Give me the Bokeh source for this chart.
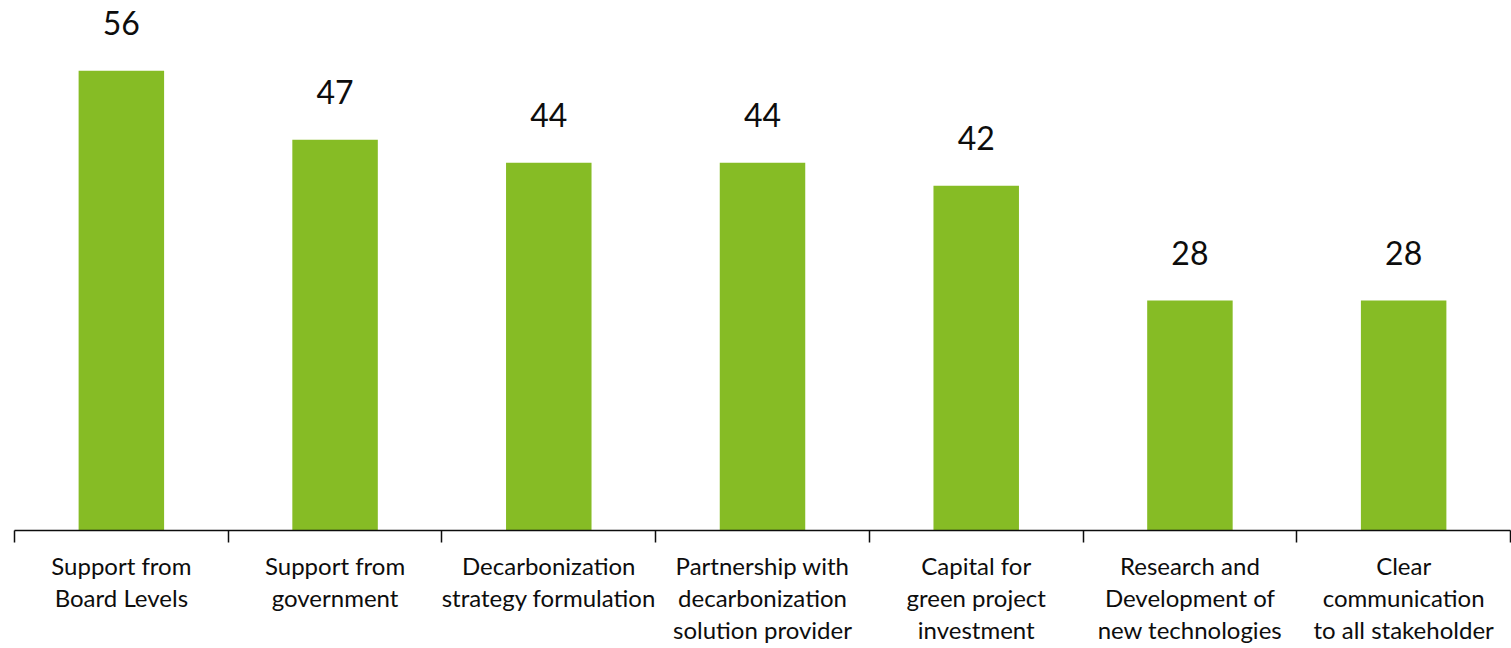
from bokeh.plotting import figure
from bokeh.models import Range1d, FixedTicker, ColumnDataSource
from bokeh.core.properties import value
from bokeh.embed import file_html
from bokeh.resources import INLINE

categories = [
    "Support from\nBoard Levels",
    "Support from\ngovernment",
    "Decarbonization\nstrategy formulation",
    "Partnership with\ndecarbonization\nsolution provider",
    "Capital for\ngreen project\ninvestment",
    "Research and\nDevelopment of\nnew technologies",
    "Clear\ncommunication\nto all stakeholder",
]
values = [56, 47.6, 44.8, 44.8, 42, 28, 28]
value_labels = [str(int(v)) for v in values]

n = len(categories)
centers = [i + 0.5 for i in range(n)]
boundaries = list(range(n + 1))

src = ColumnDataSource(dict(x=centers, top=values, label=value_labels))

p = figure(width=1511, height=648, output_backend="svg", toolbar_location=None,
           x_range=Range1d(0, n), y_range=Range1d(0, 64.55),
           min_border_left=14, min_border_right=1, min_border_top=0,
           min_border_bottom=118)
p.outline_line_color = None
p.grid.grid_line_color = None
p.yaxis.visible = False
p.background_fill_color = "white"
p.border_fill_color = "white"

p.vbar(x="x", top="top", width=0.4, bottom=0, source=src,
       fill_color="#86BC25", line_color=None)

p.text(x="x", y="top", text="label", source=src,
       text_font=value("Lato"), text_font_size="32px",
       text_color="#0d0d0d", text_align="center", text_baseline="alphabetic",
       y_offset=-48)

ax = p.xaxis[0]
ax.ticker = FixedTicker(ticks=centers, minor_ticks=boundaries)
ax.major_label_overrides = {c: lab for c, lab in zip(centers, categories)}
ax.major_tick_line_color = None
ax.major_tick_out = 0
ax.major_tick_in = 0
ax.minor_tick_line_color = "#0d0d0d"
ax.minor_tick_line_width = 1.5
ax.minor_tick_out = 12
ax.minor_tick_in = 0
ax.axis_line_color = "#0d0d0d"
ax.axis_line_width = 1.5
ax.major_label_text_font = "Lato"
ax.major_label_text_font_size = "24px"
ax.major_label_text_color = "#0d0d0d"
ax.major_label_text_line_height = 1.11
ax.major_label_standoff = 8
ax.major_label_orientation = "horizontal"

open("out.html", "w").write(file_html(p, INLINE))
